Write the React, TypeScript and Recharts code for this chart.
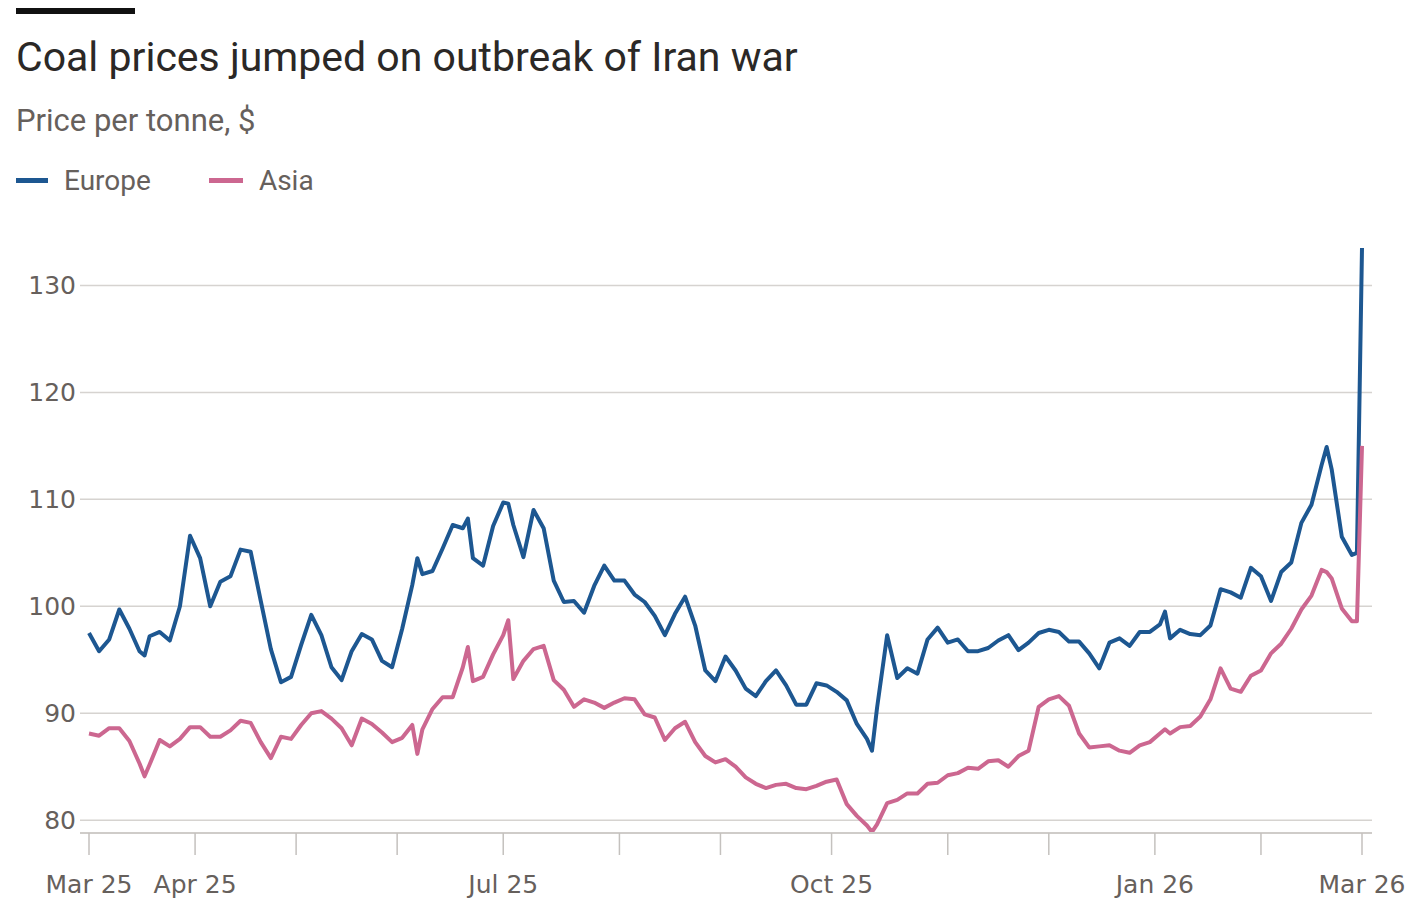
import { LineChart, Line, XAxis, YAxis, CartesianGrid } from "recharts";

// sampled trading days (roughly every other session)
const dates = [
  "2025-03-03", "2025-03-05", "2025-03-07", "2025-03-11", "2025-03-13", "2025-03-17", "2025-03-18", "2025-03-19",
  "2025-03-21", "2025-03-25", "2025-03-27", "2025-03-31", "2025-04-02", "2025-04-04", "2025-04-08", "2025-04-10",
  "2025-04-14", "2025-04-16", "2025-04-22", "2025-04-24", "2025-04-28", "2025-04-30", "2025-05-02", "2025-05-07",
  "2025-05-09", "2025-05-13", "2025-05-15", "2025-05-19", "2025-05-21", "2025-05-23", "2025-05-28", "2025-05-30",
  "2025-06-03", "2025-06-05", "2025-06-06", "2025-06-09", "2025-06-11", "2025-06-13", "2025-06-17", "2025-06-19",
  "2025-06-20", "2025-06-23", "2025-06-25", "2025-06-27", "2025-07-01", "2025-07-02", "2025-07-03", "2025-07-07",
  "2025-07-09", "2025-07-11", "2025-07-15", "2025-07-17", "2025-07-21", "2025-07-23", "2025-07-25", "2025-07-29",
  "2025-07-31", "2025-08-04", "2025-08-06", "2025-08-08", "2025-08-12", "2025-08-14", "2025-08-18", "2025-08-20",
  "2025-08-22", "2025-08-27", "2025-08-29", "2025-09-02", "2025-09-04", "2025-09-08", "2025-09-10", "2025-09-12",
  "2025-09-16", "2025-09-18", "2025-09-22", "2025-09-24", "2025-09-26", "2025-09-30", "2025-10-02", "2025-10-06",
  "2025-10-08", "2025-10-10", "2025-10-13", "2025-10-14", "2025-10-16", "2025-10-20", "2025-10-22", "2025-10-24",
  "2025-10-28", "2025-10-30", "2025-11-03", "2025-11-05", "2025-11-07", "2025-11-11", "2025-11-13", "2025-11-17",
  "2025-11-19", "2025-11-21", "2025-11-25", "2025-11-27", "2025-12-01", "2025-12-03", "2025-12-05", "2025-12-09",
  "2025-12-11", "2025-12-15", "2025-12-17", "2025-12-19", "2025-12-23", "2025-12-29", "2025-12-31", "2026-01-05",
  "2026-01-06", "2026-01-07", "2026-01-09", "2026-01-13", "2026-01-15", "2026-01-19", "2026-01-21", "2026-01-23",
  "2026-01-27", "2026-01-29", "2026-02-02", "2026-02-04", "2026-02-06", "2026-02-10", "2026-02-12", "2026-02-16",
  "2026-02-18", "2026-02-19", "2026-02-20", "2026-02-24", "2026-02-26", "2026-02-27", "2026-03-02",
];

const europe = [
  97.5, 95.8, 96.9, 99.7, 97.9, 95.8, 95.4, 97.2,
  97.6, 96.8, 100.0, 106.6, 104.5, 100.0, 102.3, 102.8,
  105.3, 105.1, 100.5, 96.0, 92.9, 93.4, 96.4, 99.2,
  97.3, 94.3, 93.1, 95.8, 97.4, 96.9, 94.9, 94.3,
  97.9, 102.0, 104.5, 103.0, 103.3, 105.4, 107.6, 107.3,
  108.2, 104.5, 103.8, 107.5, 109.7, 109.6, 107.6, 104.6,
  109.0, 107.3, 102.4, 100.4, 100.5, 99.4, 101.9, 103.8,
  102.4, 102.4, 101.1, 100.4, 99.1, 97.3, 99.3, 100.9,
  98.2, 94.0, 93.0, 95.3, 94.0, 92.3, 91.6, 93.0,
  94.0, 92.6, 90.8, 90.8, 92.8, 92.6, 92.0, 91.2,
  89.0, 87.6, 86.5, 90.5, 97.3, 93.3, 94.2, 93.7,
  96.9, 98.0, 96.6, 96.9, 95.8, 95.8, 96.1, 96.8,
  97.3, 95.9, 96.6, 97.5, 97.8, 97.6, 96.7, 96.7,
  95.6, 94.2, 96.6, 97.0, 96.3, 97.6, 97.6, 98.3,
  99.5, 97.0, 97.8, 97.4, 97.3, 98.2, 101.6, 101.3,
  100.8, 103.6, 102.8, 100.5, 103.2, 104.1, 107.8, 109.5,
  113.2, 114.9, 112.8, 106.5, 104.8, 105.0, 133.5,
];

const asia = [
  88.1, 87.9, 88.6, 88.6, 87.4, 85.3, 84.1, 85.2,
  87.5, 86.9, 87.6, 88.7, 88.7, 87.8, 87.8, 88.4,
  89.3, 89.1, 87.3, 85.8, 87.8, 87.6, 88.9, 90.0,
  90.2, 89.5, 88.6, 87.0, 89.5, 89.0, 88.2, 87.3,
  87.7, 88.9, 86.2, 88.5, 90.4, 91.5, 91.5, 94.3,
  96.2, 93.0, 93.4, 95.5, 97.3, 98.7, 93.2, 94.9,
  96.0, 96.3, 93.1, 92.2, 90.6, 91.3, 91.0, 90.5,
  91.0, 91.4, 91.3, 89.9, 89.6, 87.5, 88.6, 89.2,
  87.3, 86.0, 85.4, 85.7, 85.0, 84.0, 83.4, 83.0,
  83.3, 83.4, 83.0, 82.9, 83.2, 83.6, 83.8, 81.5,
  80.4, 79.5, 78.9, 79.6, 81.6, 81.9, 82.5, 82.5,
  83.4, 83.5, 84.2, 84.4, 84.9, 84.8, 85.5, 85.6,
  85.0, 86.0, 86.5, 90.6, 91.3, 91.6, 90.7, 88.1,
  86.8, 86.9, 87.0, 86.5, 86.3, 87.0, 87.3, 88.1,
  88.5, 88.1, 88.7, 88.8, 89.7, 91.3, 94.2, 92.3,
  92.0, 93.5, 94.0, 95.6, 96.5, 97.9, 99.7, 101.0,
  103.4, 103.2, 102.6, 99.8, 98.6, 98.6, 115.0,
];

// market closures, so the x axis runs in trading sessions like the original
const holidays = [
  "2025-04-18", "2025-04-21", "2025-05-05", "2025-05-26", "2025-08-25",
  "2025-12-25", "2025-12-26", "2026-01-01",
];

const monthStarts = [
  "2025-03-03", "2025-04-01", "2025-05-01", "2025-06-02", "2025-07-01", "2025-08-01", "2025-09-01",
  "2025-10-01", "2025-11-03", "2025-12-01", "2026-01-02", "2026-02-02", "2026-03-02",
];
const monthLabels = ["Mar 25", "Apr 25", "", "", "Jul 25", "", "", "Oct 25", "", "", "Jan 26", "", "Mar 26"];

const yTicks = [80, 90, 100, 110, 120, 130];

const FONT = "Roboto, 'Noto Sans', sans-serif";
const TICK_FONT = "'DejaVu Sans', Roboto, sans-serif";
const EUROPE = "#1d5791";
const ASIA = "#cc6790";
const MUTED = "#66605c";

const DAY = 86400000;
const start = Date.parse(dates[0] + "T00:00:00Z");

function session(iso: string) {
  const end = Date.parse(iso + "T00:00:00Z");
  let n = 0;
  for (let t = start; t < end; t += DAY) {
    const d = new Date(t);
    const wd = d.getUTCDay();
    if (wd === 0 || wd === 6) continue;
    if (holidays.includes(d.toISOString().slice(0, 10))) continue;
    n++;
  }
  return n;
}

const data = dates.map((d, i) => ({ s: session(d), europe: europe[i], asia: asia[i] }));
const xTicks = monthStarts.map(session);
const lastSession = xTicks[xTicks.length - 1];

export default function App() {
  return (
    <div style={{ position: "absolute", left: 0, top: 0, width: 1410, height: 900, background: "#fff", fontFamily: FONT, overflow: "hidden" }}>
      <div style={{ position: "absolute", left: 16, top: 8, width: 119, height: 6, background: "#111" }} />
      <div style={{ position: "absolute", left: 16, top: 37, fontSize: 41, lineHeight: 1, color: "#2b2826", whiteSpace: "nowrap" }}>
        Coal prices jumped on outbreak of Iran war
      </div>
      <div style={{ position: "absolute", left: 16, top: 105, fontSize: 31, lineHeight: 1, color: MUTED, whiteSpace: "nowrap" }}>
        Price per tonne, $
      </div>
      <div style={{ position: "absolute", left: 16, top: 166, height: 28, display: "flex", alignItems: "center", fontSize: 28, color: MUTED }}>
        <span style={{ width: 32, height: 5, background: EUROPE, marginRight: 16 }} />
        <span style={{ marginRight: 58 }}>Europe</span>
        <span style={{ width: 34, height: 5, background: ASIA, marginRight: 16 }} />
        <span>Asia</span>
      </div>

      <div style={{ position: "absolute", left: 0, top: 0 }}>
        <LineChart width={1410} height={900} data={data} margin={{ top: 232, right: 38, bottom: 7, left: 0 }}>
          <CartesianGrid vertical={false} horizontalValues={yTicks} stroke="#d6d3d0" strokeWidth={1.5} />
          <XAxis
            type="number"
            dataKey="s"
            domain={[0, lastSession]}
            ticks={xTicks}
            interval={0}
            padding={{ left: 9, right: 10 }}
            height={60}
            tickSize={22}
            tickMargin={20}
            axisLine={{ stroke: "#cfccc9", strokeWidth: 2 }}
            tickLine={{ stroke: "#c4c1be", strokeWidth: 1.5 }}
            tick={{ fill: MUTED, fontSize: 25, fontFamily: TICK_FONT }}
            tickFormatter={(v: number) => monthLabels[xTicks.indexOf(v)] ?? ""}
          />
          <YAxis
            type="number"
            domain={[78.8, 135]}
            ticks={yTicks}
            allowDataOverflow
            width={80}
            axisLine={false}
            tickLine={false}
            tickSize={0}
            tickMargin={4}
            tick={{ fill: MUTED, fontSize: 25, fontFamily: TICK_FONT }}
          />
          <Line type="linear" dataKey="europe" stroke={EUROPE} strokeWidth={4} dot={false} activeDot={false} strokeLinejoin="round" isAnimationActive={false} />
          <Line type="linear" dataKey="asia" stroke={ASIA} strokeWidth={4} dot={false} activeDot={false} strokeLinejoin="round" isAnimationActive={false} />
        </LineChart>
      </div>
    </div>
  );
}
